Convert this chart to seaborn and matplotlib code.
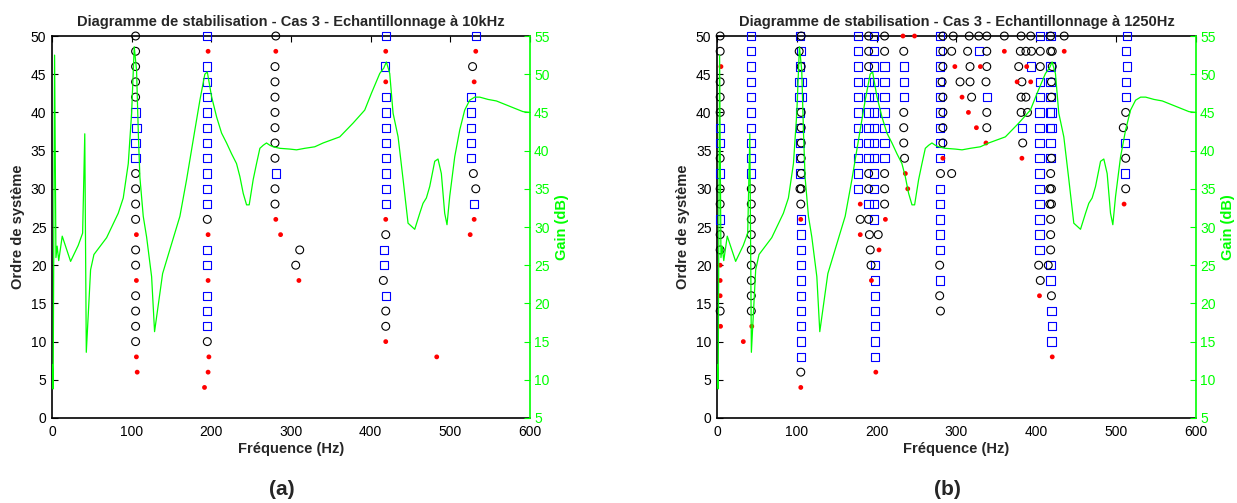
import matplotlib
matplotlib.use("Agg")
import matplotlib.pyplot as plt
import seaborn as sns
import pandas as pd

# ---------------- Frequency response (gain, dB) ----------------
gain_freq = [0.5, 1.5, 3.3, 5.0, 6.5, 8.5, 12.9, 23.4, 33.0, 38.5, 41.2, 43.1, 48.5, 52.7,
             68.6, 83.2, 89.5, 95.8, 100.0, 103.3, 106.2, 108.5, 110.4, 114.6, 118.8, 125.1,
             128.8, 138.9, 160.6, 169.0, 179.4, 185.7, 191.9, 195.0, 200.3, 206.7, 212.9,
             219.2, 225.4, 231.7, 235.9, 240.1, 244.3, 247.6, 252.6, 256.8, 261.0, 265.2,
             269.3, 273.5, 277.7, 286.1, 298.6, 307.0, 317.4, 329.9, 340.4, 361.3, 378.0,
             392.6, 401.0, 411.5, 416.5, 419.8, 424.0, 428.2, 434.5, 440.8, 447.0, 455.4,
             461.7, 465.8, 470.0, 474.2, 480.5, 484.6, 488.8, 493.0, 495.9, 499.3, 505.6,
             511.9, 518.1, 524.4, 530.7, 537.0, 547.4, 557.9, 574.6, 591.3, 600.0]
gain_db = [12.0, 8.8, 52.5, 26.0, 27.5, 25.6, 28.8, 25.5, 27.6, 29.2, 42.2, 13.6, 24.4, 26.4,
           28.6, 31.8, 33.8, 38.3, 44.9, 53.6, 50.5, 42.0, 36.5, 31.4, 28.7, 23.5,
           16.3, 23.9, 31.4, 36.2, 42.7, 46.6, 50.0, 50.3, 47.1, 44.4, 42.3,
           41.0, 39.6, 38.3, 36.6, 34.4, 32.9, 32.9, 36.2, 38.3, 40.3, 40.7,
           41.0, 40.7, 40.5, 40.3, 40.2, 40.1, 40.3, 40.5, 41.0, 41.8, 43.6,
           45.3, 47.5, 50.1, 50.8, 51.6, 50.1, 44.9, 41.8, 36.2, 30.5, 29.7,
           31.8, 33.1, 33.8, 35.3, 38.6, 38.9, 37.0, 31.8, 30.3, 34.0, 39.2,
           42.7, 45.3, 46.6, 47.0, 47.0, 46.7, 46.5, 45.8, 45.1, 45.0]

# ---------------- (a) 10 kHz sampling : (frequency Hz, model order) ----------------
a_circles = [(105, 50), (105, 48), (105, 46), (105, 44), (105, 42), (105, 32), (105, 30),
             (105, 28), (105, 26), (105, 22), (105, 20), (105, 16), (105, 14), (105, 12),
             (105, 10), (195, 26), (195, 10),
             (281, 50), (280, 46), (280, 44), (280, 42), (280, 40), (280, 38), (280, 36),
             (280, 34), (280, 30), (280, 28), (311, 22), (306, 20),
             (419, 24), (416, 18), (419, 14), (419, 12),
             (528, 46), (529, 32), (532, 30)]
a_squares = [(105, 40), (106, 38), (105, 36), (105, 34),
             (195, 50), (195, 46), (195, 44), (195, 42), (195, 40), (195, 38), (195, 36),
             (195, 34), (195, 32), (195, 30), (195, 28), (195, 22), (195, 20), (195, 16),
             (195, 14), (195, 12), (281, 32),
             (419, 50), (418, 46), (419, 42), (419, 40), (419, 38), (419, 36), (419, 34),
             (419, 32), (419, 30), (419, 28), (417, 22), (417, 20), (419, 16),
             (532, 50), (526, 42), (526, 40), (526, 38), (526, 36), (526, 34), (530, 28)]
a_dots = [(106, 24), (106, 18), (106, 8), (107, 6),
          (196, 48), (196, 24), (196, 18), (197, 8), (196, 6), (191.5, 4),
          (281, 48), (281, 26), (287, 24), (310, 18),
          (419, 48), (419, 44), (419, 26), (419, 10), (483, 8),
          (532, 48), (530, 44), (530, 26), (525, 24)]

# ---------------- (b) 1250 Hz sampling ----------------
b_circles = [(4, 50), (4, 48), (4, 44), (4, 42), (4, 40), (4, 34), (4, 30), (4, 28), (4, 24),
             (4, 22), (4, 14),
             (43, 30), (43, 28), (43, 26), (43, 24), (43, 22), (43, 20), (43, 18), (43, 16),
             (43, 14),
             (105.5, 50), (103, 48), (105.5, 46), (105.5, 40), (105.5, 38), (105.5, 36),
             (105.5, 34), (105.5, 32), (104, 30), (105.5, 30), (105, 28), (105, 6),
             (190, 50), (190, 48), (190, 46), (190, 32), (190, 30), (179.5, 26), (190, 26),
             (191, 24), (202, 24), (192, 22), (193, 20),
             (210, 50), (210, 48), (210, 32), (210, 30), (210, 28),
             (234, 48), (234, 40), (234, 38), (234, 36), (235, 34),
             (283, 50), (283, 48), (283, 46), (282, 44), (283, 42), (283, 40), (283, 38),
             (283, 36), (280, 32), (279, 20), (279, 16), (280, 14),
             (296, 50), (316, 50), (328, 50), (338, 50), (360, 50), (381, 50), (393, 50),
             (418, 50), (435, 50),
             (294, 48), (314, 48), (338, 48), (380, 48), (387, 48), (394, 48), (405, 48),
             (418, 48), (420, 48),
             (317, 46), (338, 46), (378, 46), (405, 46), (420, 46),
             (304.5, 44), (317, 44), (337, 44), (382, 44), (419, 44),
             (319, 42), (381, 42), (387, 42), (419, 42),
             (338, 40), (381, 40), (389, 40), (338, 38), (383, 36), (419, 34),
             (294, 32), (418, 32), (417, 30), (419, 30), (417, 28), (419, 28),
             (418, 26), (418, 24), (418, 22), (403, 20), (415, 20), (405, 18), (419, 16),
             (512, 40), (509, 38), (512, 34), (512, 30)]
b_squares = [(4, 38), (4, 36), (4, 32), (4, 26),
             (43, 50), (43, 48), (43, 46), (43, 44), (43, 42), (43, 40), (43, 38), (43, 36),
             (43, 34), (43, 32),
             (104, 50), (105, 48), (104, 46), (103, 44), (106, 44), (103, 42), (106, 42),
             (104, 40), (104, 38), (104, 36), (104, 34), (104, 32), (105, 26), (105, 24),
             (105, 22), (105, 20), (105, 18), (105, 16), (105, 14), (105, 12), (105, 10),
             (105, 8),
             (177, 50), (177, 48), (177, 46), (177, 44), (177, 42), (177, 40), (177, 38),
             (177, 36), (177, 34), (177, 32), (177, 30),
             (190, 44), (190, 42), (190, 40), (190, 38), (190, 36), (190, 34), (190, 28),
             (197, 50), (197, 48), (197, 46), (197, 44), (197, 42), (197, 40), (197, 38),
             (197, 36), (197, 34), (197, 32), (197, 30), (197, 28), (197, 26), (198, 20),
             (198, 18), (198, 16), (198, 14), (198, 12), (198, 10), (198, 8),
             (210, 46), (210, 44), (210, 42), (210, 40), (210, 38), (210, 36), (210, 34),
             (234, 46), (234, 44), (234, 42),
             (279, 50), (279, 48), (279, 46), (279, 44), (279, 42), (279, 40), (279, 38),
             (279, 36), (279, 34), (279, 30), (279, 28), (279, 26), (279, 24), (279, 22),
             (279, 18),
             (328, 48), (393, 46), (418, 46), (405, 44), (418, 44), (338, 42), (405, 42),
             (418, 42), (404, 40), (417, 40), (419, 40), (382, 38), (404, 38), (417, 38),
             (419, 38), (404, 36), (418, 36), (404, 34), (418, 34), (404, 32), (404, 30),
             (404, 28), (404, 26), (404, 24), (404, 22), (418, 20), (418, 18), (419, 14),
             (420, 12), (419, 10), (405, 50), (418, 50),
             (514, 50), (512, 48), (514, 46), (512, 44), (512, 42), (511, 36), (511, 32)]
b_dots = [(5, 46), (4, 20), (4, 18), (4, 16), (4.5, 12), (43.6, 12), (33, 10),
          (105, 26), (105, 4),
          (179.5, 28), (179.5, 24), (193.5, 18), (203, 22), (211, 26), (199, 6),
          (233, 50), (247.5, 50), (236, 32), (239, 30),
          (283, 34), (298, 46), (330, 46), (307, 42), (315, 40), (325, 38), (337, 36),
          (360, 48), (376, 44), (393, 44), (388, 46), (382, 34),
          (435, 48), (404, 16), (420, 8), (510, 28)]

GREEN = "#00ff00"
BLUE = "#0000ff"

sns.set_style("white")
plt.rcParams["font.family"] = ["Liberation Sans", "DejaVu Sans"]

fig = plt.figure(figsize=(12.37, 5.03), dpi=100)
gain = pd.DataFrame({"freq": gain_freq, "gain": gain_db})


def draw_panel(rect, circles, squares, dots, title, tag):
    ax = fig.add_axes(rect)
    c = pd.DataFrame(circles, columns=["freq", "order"])
    s = pd.DataFrame(squares, columns=["freq", "order"])
    d = pd.DataFrame(dots, columns=["freq", "order"])
    sns.scatterplot(data=s, x="freq", y="order", ax=ax, marker="s", s=36,
                    facecolor="none", edgecolor=BLUE, linewidth=0.8, zorder=3,
                    clip_on=False)
    sns.scatterplot(data=c, x="freq", y="order", ax=ax, marker="o", s=32,
                    facecolor="none", edgecolor="black", linewidth=0.8, zorder=3,
                    clip_on=False)
    sns.scatterplot(data=d, x="freq", y="order", ax=ax, marker="o", s=12,
                    color="red", edgecolor="none", linewidth=0, zorder=4,
                    clip_on=False)
    ax.set_xlim(0, 600)
    ax.set_ylim(0, 50)
    ax.set_xticks(range(0, 601, 100))
    ax.set_yticks(range(0, 51, 5))
    ax.tick_params(direction="in", length=4, width=0.8, top=True, right=False,
                   labelsize=10, colors="black", pad=4)
    ax.tick_params(axis="x", pad=5)
    ax.set_xlabel("Fréquence (Hz)", fontsize=10.5, fontweight="bold", labelpad=2)
    ax.set_ylabel("Ordre de système", fontsize=10.5, fontweight="bold", labelpad=4)
    ax.set_title(title, fontsize=10.5, fontweight="bold", pad=7)
    for sp in ax.spines.values():
        sp.set_linewidth(1.2)
        sp.set_color("black")
    ax.spines["right"].set_visible(False)

    ax2 = ax.twinx()
    sns.lineplot(data=gain, x="freq", y="gain", ax=ax2, color=GREEN, linewidth=0.9,
                 estimator=None, sort=False)
    ax2.set_ylim(5, 55)
    ax2.set_yticks(range(5, 56, 5))
    ax2.tick_params(axis="y", direction="in", length=4, width=0.8, colors=GREEN,
                    labelsize=10, pad=3)
    ax2.set_ylabel("Gain (dB)", color=GREEN, fontsize=10.5, fontweight="bold", labelpad=4)
    ax2.set_xlabel("")
    for name, sp in ax2.spines.items():
        sp.set_visible(name == "right")
    ax2.spines["right"].set_color(GREEN)
    ax2.spines["right"].set_linewidth(1.2)

    x0, y0, w, h = rect
    fig.text(x0 + w / 2 - 0.007, 0.026, tag, ha="center", va="center",
             fontsize=15, fontweight="bold")


draw_panel([0.042, 0.169, 0.3864, 0.7594], a_circles, a_squares, a_dots,
           "Diagramme de stabilisation - Cas 3 - Echantillonnage à 10kHz", "(a)")
draw_panel([0.5796, 0.169, 0.3872, 0.7594], b_circles, b_squares, b_dots,
           "Diagramme de stabilisation - Cas 3 - Echantillonnage à 1250Hz", "(b)")

fig.savefig("out.png", dpi=100, facecolor="white")
